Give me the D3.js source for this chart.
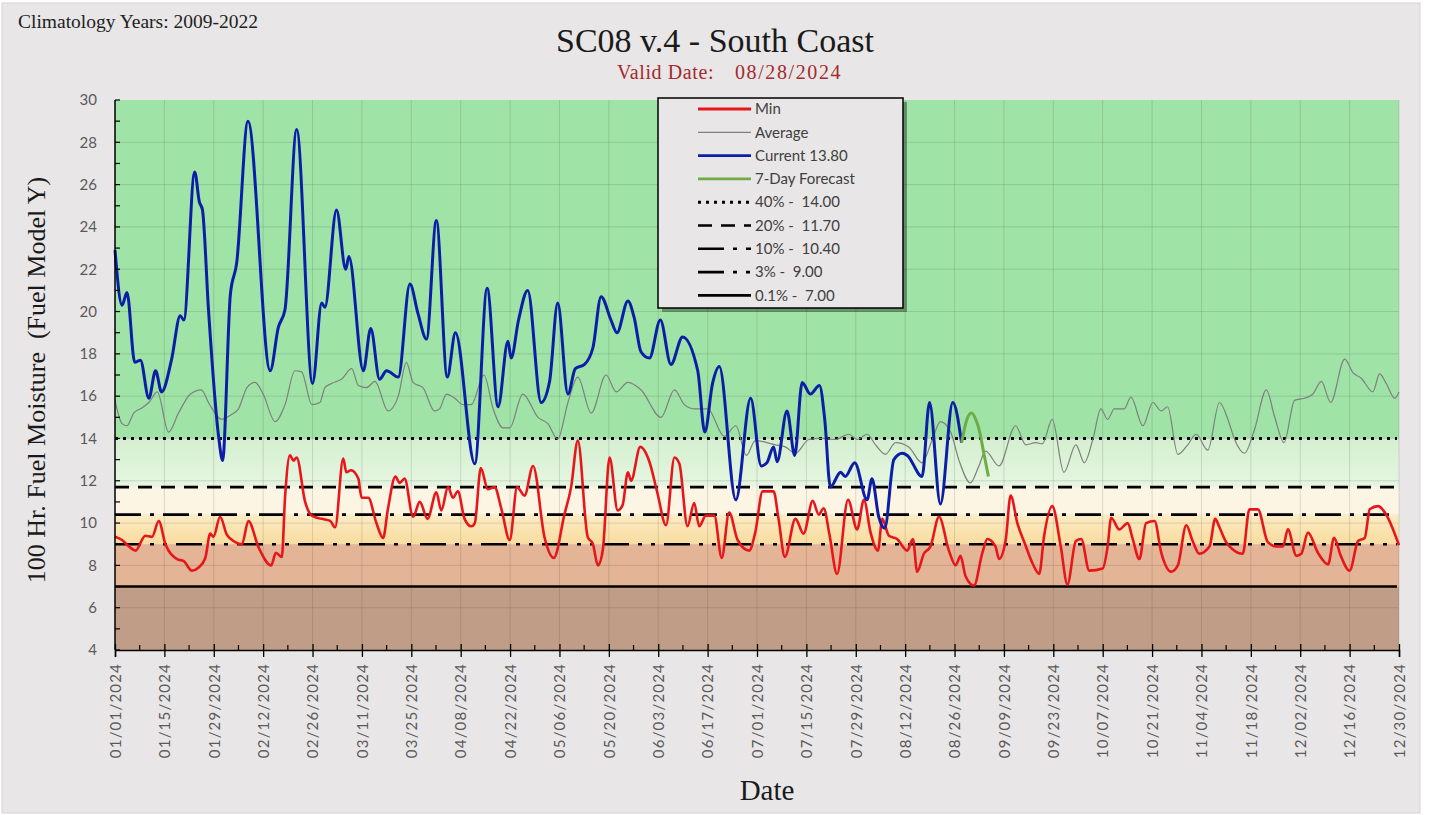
<!DOCTYPE html>
<html><head><meta charset="utf-8">
<script src="https://cdn.jsdelivr.net/npm/d3@7"></script>
<style>html,body{margin:0;padding:0;background:#fff;}svg{display:block;}</style>
</head><body>
<svg id="chart" width="1429" height="815"></svg>
<script>
// ---------- DATA (day offset from 01/01/2024, value) ----------
const currentSeries = [[0,22.9],[2,20.3],[3.4,20.9],[5.6,17.6],[7.2,17.7],[9.6,15.9],[11.5,17.2],[13.2,16.2],[16,17.7],[18.5,19.8],[19.5,19.6],[22.6,26.6],[23.9,25.2],[24.8,24.8],[26.5,20.1],[29.4,14.05],[30.5,12.96],[32.7,20.8],[34.5,22.3],[37.7,29.0],[44,17.2],[46.3,19.25],[48.2,20.1],[51.5,28.6],[56,16.6],[58.6,20.4],[59.5,20.2],[62.8,24.8],[65.4,22.0],[66.3,22.6],[70.4,17.2],[72.5,19.2],[75,16.8],[77,17.2],[80.3,16.9],[83.6,21.3],[85.9,19.9],[88.3,18.7],[91.1,24.3],[94.2,16.9],[96.5,19.0],[102,12.8],[105.5,21.1],[108.6,15.5],[111.4,18.6],[112.3,17.8],[114.4,19.6],[117,21.0],[120.8,15.7],[123.2,16.7],[125.5,20.4],[128.4,16.1],[130.5,17.3],[133.1,17.5],[135.5,18.3],[137.8,20.7],[140.6,19.6],[142.3,19.0],[145.4,20.5],[147.2,19.7],[149.1,18.1],[151.5,17.8],[154.6,19.6],[157.6,17.5],[160.9,18.8],[165.2,17.2],[167.2,14.3],[169.4,16.6],[171.3,17.4],[176,11.1],[180.2,15.9],[183.2,12.7],[184.8,12.85],[186.7,13.6],[187.7,12.9],[190.5,15.3],[192.7,13.2],[194.8,16.65],[197.1,16.1],[199.7,16.5],[201.2,14.9],[202.8,11.7],[205.7,12.4],[207,12.2],[209.7,12.85],[213.2,11.1],[214.6,12.1],[216.5,10.3],[218.2,9.75],[220.8,13.0],[223.2,13.3],[224.6,13.2],[228.8,12.2],[230.9,15.7],[234,10.9],[237.5,15.7],[240,13.8]];
const forecastSeries = [[240,13.8],[241.5,14.9],[242.8,15.2],[244,14.9],[245,14.4],[246.3,13.3],[247.6,12.2]];
const averageSeries = [[0,15.8],[2,14.7],[3.4,14.6],[5.3,15.2],[7.2,15.4],[9.6,15.7],[12,16.2],[15.2,14.3],[18,15.2],[21.4,16.1],[24.5,16.3],[26.5,15.7],[30.3,14.9],[32.7,15.1],[35,15.4],[37.4,16.4],[39.7,16.65],[42,16.1],[45.4,14.8],[48.2,15.6],[51,17.2],[52.9,17.15],[55.8,15.6],[58.1,15.7],[59.5,16.4],[61.4,16.6],[64.2,16.8],[67.1,17.3],[69,16.5],[71.3,16.4],[73.7,16.7],[77.4,15.3],[80.3,16.0],[82.6,17.6],[84.5,16.65],[87.3,16.4],[90.6,15.3],[92,15.4],[94,16.1],[96.3,15.9],[98.7,15.6],[101,15.6],[104.6,17.0],[107.2,15.4],[110,14.5],[111.9,14.5],[115.6,16.1],[119.9,15.0],[122.7,14.7],[125.5,13.97],[128.4,15.7],[131.2,16.9],[135,15.2],[139.2,17.0],[142.1,16.2],[145.4,16.65],[149.1,16.3],[154.8,15.0],[158.6,16.3],[161.4,15.6],[164.2,15.4],[168,15.4],[172.7,14.1],[176,14.6],[179,13.2],[181.5,13.9],[187.2,13.7],[190,13.6],[192.9,13.3],[196.7,13.95],[200.4,14.0],[204.2,13.95],[208,14.2],[210.4,13.95],[213.2,14.2],[215.6,13.7],[218.4,13.25],[221.3,13.8],[225,13.6],[228.8,12.85],[231.7,13.95],[234,14.8],[236.9,14.3],[239.2,13.0],[242.5,11.9],[244.9,12.7],[246.8,13.4],[250.6,12.7],[255.3,14.6],[258.2,13.7],[261,13.8],[262.9,13.75],[265.7,14.9],[269,12.4],[272.4,13.7],[274.8,12.85],[277.2,13.95],[279.5,15.4],[281.4,14.9],[283.3,15.4],[286.1,15.4],[288,15.95],[291.4,14.6],[294.2,15.7],[296.6,15.3],[298.4,15.5],[301.3,13.25],[304.1,13.7],[306.5,14.2],[309.8,13.45],[313.1,15.7],[315.5,14.9],[317.4,13.95],[320.2,13.3],[323,14.4],[326.4,16.3],[328.7,15.05],[331.4,13.8],[334.4,15.8],[337.2,15.9],[339.6,16.1],[342,16.7],[344.6,15.7],[348.6,17.75],[351,17.1],[353.3,16.85],[356.6,16.2],[358.5,17.05],[360.4,16.6],[362.8,15.9],[364,16.2]];
const minSeries = [[0,9.35],[2,9.2],[3.9,8.9],[5.8,8.7],[8.6,9.4],[10.5,9.35],[12.4,10.1],[14.3,9.0],[17.6,8.3],[19.5,8.2],[21.8,7.75],[23.7,7.9],[25.6,8.35],[27,9.5],[27.9,9.35],[29.8,10.3],[31.7,9.45],[34.1,9.1],[36,9.0],[37.8,10.1],[40.7,8.85],[44.3,8.0],[45.6,8.6],[47.3,8.4],[48.2,11.2],[49.6,13.2],[50.6,12.95],[51.5,13.1],[53.9,11.0],[55.8,10.35],[58.6,10.2],[61,10.1],[62.4,9.8],[64.7,13.05],[65.6,12.4],[66.9,12.5],[69,12.1],[69.9,11.2],[71.8,11.2],[74.1,10.0],[76,9.3],[77.4,10.7],[79.5,12.2],[80.7,11.9],[82.1,12.1],[84.5,10.3],[86.4,11.0],[88.6,10.2],[91.1,11.45],[92.5,10.6],[94.4,11.7],[95.8,11.2],[97.2,11.5],[99.1,10.2],[101,9.85],[102,10.0],[103.7,12.6],[105.7,11.6],[107.6,11.7],[109.5,10.7],[111.9,9.2],[114,11.7],[116.1,11.3],[118.5,12.7],[121.8,9.3],[124.4,8.35],[127.4,10.4],[129.3,11.7],[131.2,13.9],[134,9.35],[135.5,9.0],[136.9,8.0],[138.3,8.75],[140.2,13.1],[142.5,10.6],[143.9,10.85],[145.4,12.4],[146.3,12.0],[148.9,13.6],[151.5,12.9],[153.8,11.4],[156.2,9.9],[158.6,13.1],[160,12.8],[162.3,9.85],[164.2,10.95],[165.6,9.85],[167.5,10.35],[169.9,10.35],[172,8.35],[174.1,10.5],[176.5,9.2],[179.8,8.7],[181.5,9.55],[183.6,11.5],[185.3,11.5],[186.7,11.5],[188.1,10.2],[189.9,8.4],[192.9,10.2],[195.2,9.5],[197.8,11.05],[199.5,10.4],[200.9,10.7],[202.5,9.5],[204.7,7.6],[207.8,11.1],[210.4,9.7],[212.3,11.1],[214.2,9.55],[216.3,8.7],[217.5,10.2],[219.4,9.4],[221.7,9.25],[224.6,8.7],[226.2,9.25],[227.4,7.7],[229.3,8.55],[231.2,8.9],[233.6,10.3],[236.4,8.7],[238.3,8.0],[239.7,8.45],[241.1,7.5],[243.5,7.05],[245.9,8.6],[247.3,9.25],[249.6,8.9],[250.6,8.3],[252.5,9.2],[253.9,11.3],[255.8,10.0],[258,9.0],[260.1,8.1],[262,7.6],[263.4,9.4],[265.7,10.8],[268.1,8.9],[270,7.1],[272.4,9.15],[273.9,9.25],[276.2,7.75],[280,7.85],[281.4,8.9],[282.4,10.25],[284.7,9.7],[287.1,10.0],[288.5,9.25],[290.4,8.3],[292.3,10.0],[294.7,10.1],[296.6,8.6],[299.4,7.7],[301.3,8.0],[303.7,9.9],[305.5,9.15],[307.4,8.55],[310.3,8.9],[311.9,10.2],[313.1,9.8],[315,9.1],[316.9,8.75],[319.7,8.55],[321.6,10.65],[324,10.65],[326.8,9.1],[329.2,8.9],[331.1,8.9],[332.5,9.7],[334.9,8.45],[336.3,8.55],[338.2,9.55],[341,8.6],[343.9,8.05],[345.6,9.3],[347.5,8.45],[350,7.75],[352.4,9.15],[354.3,9.3],[355.7,10.65],[358.1,10.8],[360,10.5],[364,8.95]];
const thresholdValues = [14.0, 11.7, 10.4, 9.0, 7.0];
const thresholdLabels = ["40% -  14.00", "20% -  11.70", "10% -  10.40", "3% -  9.00", "0.1% -  7.00"];
const seriesLabels = ["Min", "Average", "Current 13.80", "7-Day Forecast"];
const yTicks = [4,6,8,10,12,14,16,18,20,22,24,26,28,30];
const xTickDays = d3.range(0, 365, 14);

// ---------- LAYOUT ----------
const svg = d3.select("#chart");
const L = 115, R = 1399, T = 100, B = 650;
const startDate = new Date(2024, 0, 1);
const x = d3.scaleLinear().domain([0, 364]).range([L, R]);
const y = d3.scaleLinear().domain([4, 30]).range([B, T]);
const serif = "'Liberation Serif', 'Times New Roman', serif";
const sans = "Lato, 'Open Sans', sans-serif";

svg.append("rect").attr("x", 2).attr("y", 3).attr("width", 1418).attr("height", 810)
  .attr("fill", "#e8e6e7").attr("stroke", "#d6d4d5");

const defs = svg.append("defs");
const g1 = defs.append("linearGradient").attr("id", "gLight").attr("x1",0).attr("y1",0).attr("x2",0).attr("y2",1);
g1.append("stop").attr("offset","0%").attr("stop-color","#d4efcf");
g1.append("stop").attr("offset","100%").attr("stop-color","#e6f6e1");
const g2 = defs.append("linearGradient").attr("id", "gYel").attr("x1",0).attr("y1",0).attr("x2",0).attr("y2",1);
g2.append("stop").attr("offset","0%").attr("stop-color","#fcebc4");
g2.append("stop").attr("offset","100%").attr("stop-color","#f8dc9f");

const bands = [
  {lo:14, hi:30, fill:"#9fe3a6"},
  {lo:11.7, hi:14, fill:"url(#gLight)"},
  {lo:10.4, hi:11.7, fill:"#fdf5e4"},
  {lo:9, hi:10.4, fill:"url(#gYel)"},
  {lo:7, hi:9, fill:"#e3b495"},
  {lo:4, hi:7, fill:"#c09d86"}
];
svg.append("g").selectAll("rect").data(bands).join("rect")
  .attr("x", L).attr("width", R - L)
  .attr("y", d => y(d.hi)).attr("height", d => y(d.lo) - y(d.hi))
  .attr("fill", d => d.fill);

// gridlines
const grid = svg.append("g").attr("stroke", "rgba(60,60,60,0.16)").attr("stroke-width", 1);
grid.selectAll(".h").data(d3.range(6, 30, 2)).join("line")
  .attr("x1", L).attr("x2", R).attr("y1", d => y(d)).attr("y2", d => y(d));
grid.selectAll(".v").data(xTickDays.slice(1)).join("line")
  .attr("y1", T).attr("y2", B).attr("x1", d => x(d)).attr("x2", d => x(d));

// threshold lines
const dashes = ["3,5", "14,9", "26,9,4,9", "26,9,4,9,4,9", null];
svg.append("g").selectAll("line").data(thresholdValues).join("line")
  .attr("x1", L).attr("x2", R - 2)
  .attr("y1", d => y(d)).attr("y2", d => y(d))
  .attr("stroke", "#000").attr("stroke-width", (d,i) => i === 0 ? 3 : 2.6)
  .attr("stroke-dasharray", (d,i) => dashes[i]);

// series
const line = d3.line().x(d => x(d[0])).y(d => y(d[1])).curve(d3.curveMonotoneX);
svg.append("path").datum(averageSeries).attr("d", line).attr("fill","none").attr("stroke","#7f7f7f").attr("stroke-width",1.2);
svg.append("path").datum(minSeries).attr("d", line).attr("fill","none").attr("stroke","#e8161b").attr("stroke-width",2.6).attr("stroke-linejoin","round");
svg.append("path").datum(currentSeries).attr("d", line).attr("fill","none").attr("stroke","#0b1ea8").attr("stroke-width",3).attr("stroke-linejoin","round");
svg.append("path").datum(forecastSeries).attr("d", line).attr("fill","none").attr("stroke","#6fac46").attr("stroke-width",3);

// axes
const yAxis = d3.axisLeft(y).tickValues(yTicks).tickSize(0).tickPadding(18);
const ya = svg.append("g").attr("transform", `translate(${L},0)`).call(yAxis);
ya.select(".domain").remove();
ya.selectAll("text").attr("font-family", sans).attr("font-size", 15).attr("fill", "#5a5a5a");
svg.append("g").selectAll("line").data(d3.range(4, 31, 1)).join("line")
  .attr("x1", L).attr("x2", L + 5).attr("y1", d => y(d)).attr("y2", d => y(d))
  .attr("stroke", "#000").attr("stroke-width", 1.2);
svg.append("line").attr("x1", L).attr("x2", L).attr("y1", T).attr("y2", B).attr("stroke","#000").attr("stroke-width",1.5);

const fmt = d3.timeFormat("%m/%d/%Y");
const xAxis = d3.axisBottom(x).tickValues(xTickDays).tickSize(7)
  .tickFormat(d => fmt(d3.timeDay.offset(startDate, d)));
const xa = svg.append("g").attr("transform", `translate(0,${B})`).call(xAxis);
xa.select(".domain").attr("stroke", "#000").attr("stroke-width", 1.5);
xa.selectAll(".tick line").attr("stroke", "#000").attr("stroke-width", 1.3).attr("y1", -6);
xa.selectAll("text")
  .attr("font-family", sans).attr("font-size", 15).attr("fill", "#5a5a5a")
  .attr("letter-spacing", "1.2px")
  .attr("text-anchor", "end").attr("dy", "0.35em")
  .attr("transform", "translate(0,4) rotate(-90)")
  .attr("x", -9).attr("y", 0);
svg.append("g").selectAll("line").data(d3.range(7, 365, 14)).join("line")
  .attr("x1", d => x(d)).attr("x2", d => x(d)).attr("y1", B - 5).attr("y2", B)
  .attr("stroke", "#000").attr("stroke-width", 1.2);

// titles
svg.append("text").attr("x", 18).attr("y", 28).attr("font-family", serif).attr("font-size", 19.5)
  .attr("fill", "#222").text("Climatology Years: 2009-2022");
svg.append("text").attr("x", 715).attr("y", 52).attr("text-anchor","middle").attr("font-family", serif)
  .attr("font-size", 34).attr("fill", "#1a1a1a").text("SC08 v.4 - South Coast");
svg.append("text").attr("x", 617).attr("y", 79).attr("font-family", serif).attr("font-size", 20)
  .attr("letter-spacing", "0.6px").attr("fill", "#a32a2e").text("Valid Date:");
svg.append("text").attr("x", 735).attr("y", 79).attr("font-family", serif).attr("font-size", 20)
  .attr("letter-spacing", "1.6px").attr("fill", "#a32a2e").text("08/28/2024");
svg.append("text").attr("transform", "translate(45,380) rotate(-90)").attr("text-anchor","middle")
  .attr("font-family", serif).attr("font-size", 26).attr("fill", "#1a1a1a")
  .attr("xml:space","preserve").text("100 Hr. Fuel Moisture  (Fuel Model Y)");
svg.append("text").attr("x", 767).attr("y", 800).attr("text-anchor","middle").attr("font-family", serif)
  .attr("font-size", 29).attr("fill", "#1a1a1a").text("Date");

// legend
const lg = svg.append("g").attr("transform", "translate(658,98)");
lg.append("rect").attr("x", 4).attr("y", 4).attr("width", 245).attr("height", 210).attr("fill", "rgba(0,0,0,0.35)");
lg.append("rect").attr("x", 0).attr("y", 0).attr("width", 245).attr("height", 210)
  .attr("fill", "#e8e6e7").attr("stroke", "#000").attr("stroke-width", 1.5);
const legendItems = [
  {label: seriesLabels[0], stroke:"#e8161b", w:2.8, dash:null},
  {label: seriesLabels[1], stroke:"#7f7f7f", w:1.2, dash:null},
  {label: seriesLabels[2], stroke:"#0b1ea8", w:2.8, dash:null},
  {label: seriesLabels[3], stroke:"#6fac46", w:2.8, dash:null},
  ...thresholdLabels.map((t,i) => ({label:t, stroke:"#000", w: i===0 ? 3 : 2.6, dash: dashes[i]}))
];
const rows = lg.selectAll("g.row").data(legendItems).join("g")
  .attr("transform", (d,i) => `translate(0,${11 + i * 23.3})`);
rows.append("line").attr("x1", 40).attr("x2", 93).attr("y1", 0).attr("y2", 0)
  .attr("stroke", d => d.stroke).attr("stroke-width", d => d.w).attr("stroke-dasharray", d => d.dash);
rows.append("text").attr("x", 97).attr("y", 0).attr("dy", "0.35em")
  .attr("font-family", sans).attr("font-size", 15).attr("fill", "#404040")
  .attr("xml:space","preserve").text(d => d.label);
</script>
</body></html>
